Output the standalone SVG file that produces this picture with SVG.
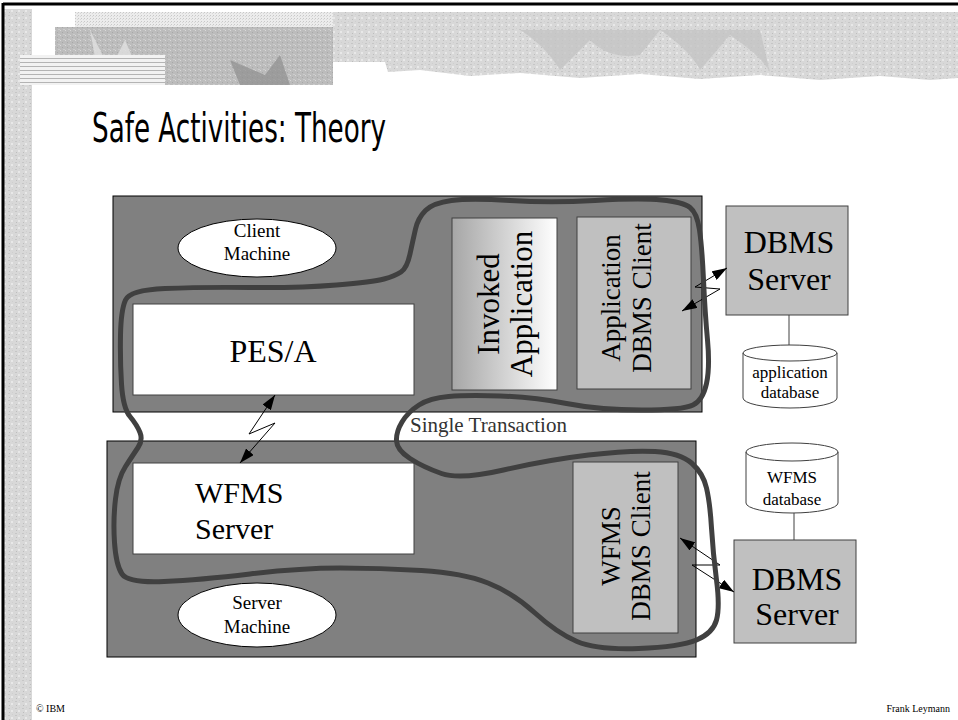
<svg xmlns="http://www.w3.org/2000/svg" width="958" height="720" viewBox="0 0 958 720">
<defs>
<style>
.serif{font-family:"Liberation Serif","Times New Roman",serif;fill:#000}
.mach{fill:#808080;stroke:#000;stroke-width:1}
.white{fill:#fff;stroke:#404040;stroke-width:1}
.lgray{fill:#c0c0c0;stroke:#404040;stroke-width:1}
.ell{fill:#fff;stroke:#000;stroke-width:1}
.conn{fill:none;stroke:#000;stroke-width:1}
.dbline{fill:none;stroke:#404040;stroke-width:1}
.ta{stroke:#404040;stroke-width:5;fill:none;stroke-linejoin:round}
</style>
<marker id="ah" markerUnits="userSpaceOnUse" markerWidth="15" markerHeight="10" refX="15" refY="5" orient="auto-start-reverse">
<path d="M0,0 L15,5 L0,10 Z" fill="#000"/>
</marker>
<linearGradient id="inv" x1="0" y1="0" x2="1" y2="0">
<stop offset="0" stop-color="#a6a6a6"/>
<stop offset="1" stop-color="#ffffff"/>
</linearGradient>
<pattern id="tex" width="7" height="7" patternUnits="userSpaceOnUse">
<rect width="7" height="7" fill="#d8d8d8"/>
<rect x="1" y="1" width="2" height="1" fill="#c6c6c6"/>
<rect x="4" y="3" width="2" height="2" fill="#e8e8e8"/>
<rect x="2" y="5" width="1" height="1" fill="#bdbdbd"/>
<rect x="5" y="0" width="1" height="1" fill="#cfcfcf"/>
</pattern>
<pattern id="tex2" width="5" height="5" patternUnits="userSpaceOnUse">
<rect width="5" height="5" fill="#bcbcbc"/>
<rect x="0" y="0" width="1" height="1" fill="#d8d8d8"/>
<rect x="2" y="2" width="1" height="1" fill="#a8a8a8"/>
<rect x="3" y="4" width="2" height="1" fill="#cccccc"/>
</pattern>
<pattern id="dots" width="3" height="3" patternUnits="userSpaceOnUse">
<rect width="3" height="3" fill="#ececec"/>
<rect x="0" y="0" width="1" height="1" fill="#c8c8c8"/>
<rect x="2" y="1" width="1" height="1" fill="#d8d8d8"/>
</pattern>
<pattern id="stripes" width="4" height="4" patternUnits="userSpaceOnUse">
<rect width="4" height="4" fill="#f2f2f2"/>
<rect y="2" width="4" height="1" fill="#b4b4b4"/>
</pattern>
</defs>

<g id="background">
<rect x="0" y="0" width="958" height="720" fill="#fff"/>
<rect x="4" y="9" width="28" height="711" fill="url(#tex)"/>
<rect x="75" y="12" width="258" height="16" fill="url(#dots)"/>
<rect x="55" y="27" width="278" height="58" fill="url(#tex2)"/>
<path d="M90,30 L110,70 L125,40 L140,75 L165,55 L130,85 L100,85 Z" fill="#e0e0e0" opacity="0.8"/>
<path d="M230,60 L265,75 L280,55 L290,85 L240,85 Z" fill="#8e8e8e" opacity="0.7"/>
<rect x="20" y="55" width="145" height="30" fill="url(#stripes)"/>
<path d="M333,12 L958,12 L958,78 L930,80 L880,76 L820,80 L760,75 L700,79 L640,74 L580,78 L520,73 L470,76 L420,70 L388,72 L385,62 L333,62 Z" fill="url(#tex)"/>
<path d="M520,30 Q545,45 560,70 L590,40 Q610,60 640,55 L660,30 Q690,50 700,70 L730,35 Q760,55 770,72 L760,30 Z" fill="#c4c4c4" opacity="0.8"/>
<line x1="3" y1="4" x2="958" y2="4" stroke="#000" stroke-width="3"/>
<line x1="3" y1="3" x2="3" y2="720" stroke="#000" stroke-width="3"/>
</g>

<text x="92" y="142" textLength="294" lengthAdjust="spacingAndGlyphs" style="font-family:'Comic Sans MS','DejaVu Sans',sans-serif;font-size:40px;fill:#000">Safe Activities: Theory</text>

<g id="client-machine">
<rect class="mach" x="113" y="196" width="589" height="216"/>
<ellipse class="ell" cx="257" cy="248" rx="79" ry="29"/>
<text class="serif" x="257" y="237" text-anchor="middle" font-size="19">Client</text>
<text class="serif" x="257" y="260" text-anchor="middle" font-size="19">Machine</text>
</g>

<g id="server-machine">
<rect class="mach" x="107" y="441" width="589" height="216"/>
<ellipse class="ell" cx="257" cy="615" rx="79" ry="32"/>
<text class="serif" x="257" y="609" text-anchor="middle" font-size="19">Server</text>
<text class="serif" x="257" y="633" text-anchor="middle" font-size="19">Machine</text>
</g>

<g id="pes-a">
<rect class="white" x="133" y="304" width="281" height="91"/>
<text class="serif" x="273" y="362" text-anchor="middle" font-size="32">PES/A</text>
</g>

<g id="wfms-server">
<rect class="white" x="133" y="463" width="281" height="91"/>
<text class="serif" x="195" y="503" font-size="30">WFMS</text>
<text class="serif" x="195" y="539" font-size="30">Server</text>
</g>

<g id="invoked-application">
<rect x="452" y="218" width="105" height="172" fill="url(#inv)" stroke="#404040" stroke-width="1"/>
<text class="serif" transform="translate(499,304) rotate(-90)" text-anchor="middle" font-size="31">Invoked</text>
<text class="serif" transform="translate(532,304) rotate(-90)" text-anchor="middle" font-size="31">Application</text>
</g>

<g id="application-dbms-client">
<rect class="lgray" x="577" y="217" width="114" height="172"/>
<text class="serif" transform="translate(620,298) rotate(-90)" text-anchor="middle" font-size="27">Application</text>
<text class="serif" transform="translate(651,298) rotate(-90)" text-anchor="middle" font-size="27">DBMS Client</text>
</g>

<g id="wfms-dbms-client">
<rect class="lgray" x="573" y="462" width="105" height="171"/>
<text class="serif" transform="translate(620,546) rotate(-90)" text-anchor="middle" font-size="27">WFMS</text>
<text class="serif" transform="translate(650,546) rotate(-90)" text-anchor="middle" font-size="27">DBMS Client</text>
</g>

<g id="dbms-server-app">
<rect class="lgray" x="726" y="206" width="122" height="109"/>
<text class="serif" x="789" y="253" text-anchor="middle" font-size="32">DBMS</text>
<text class="serif" x="789" y="290" text-anchor="middle" font-size="32">Server</text>
</g>

<g id="application-database">
<path d="M743,353 L743,398 A47,10 0 0 0 837,398 L837,353 A47,8 0 0 0 743,353 A47,8 0 0 0 837,353" fill="#fff" stroke="#404040" stroke-width="1"/>
<text class="serif" x="790" y="378" text-anchor="middle" font-size="17">application</text>
<text class="serif" x="790" y="398" text-anchor="middle" font-size="17">database</text>
</g>

<g id="wfms-database">
<path d="M746,452 L746,503 A46,10 0 0 0 838,503 L838,452 A46,9 0 0 0 746,452 A46,9 0 0 0 838,452" fill="#fff" stroke="#404040" stroke-width="1"/>
<text class="serif" x="792" y="483" text-anchor="middle" font-size="17">WFMS</text>
<text class="serif" x="792" y="505" text-anchor="middle" font-size="17">database</text>
</g>

<g id="dbms-server-wfms">
<rect class="lgray" x="734" y="540" width="122" height="103"/>
<text class="serif" x="797" y="590" text-anchor="middle" font-size="32">DBMS</text>
<text class="serif" x="797" y="625" text-anchor="middle" font-size="32">Server</text>
</g>

<g id="connectors">
<line class="dbline" x1="789" y1="315" x2="789" y2="345"/>
<line class="dbline" x1="794" y1="513" x2="794" y2="540"/>
<polyline class="conn" points="275,395 249,434 275,423 240,463" marker-start="url(#ah)" marker-end="url(#ah)"/>
<polyline class="conn" points="682,311 720,289 695,287 727,268" marker-start="url(#ah)" marker-end="url(#ah)"/>
<polyline class="conn" points="680,538 720,565 692,565 734,592" marker-start="url(#ah)" marker-end="url(#ah)"/>
</g>

<g id="single-transaction">
<path class="ta" d="M401,272 Q407,268 410,254 Q413,240 415.5,229 Q418,218 425.5,210.5 Q433,203 451.5,200.5 Q470,198 510,200.5 Q550,203 595,200.5 Q640,198 661.5,200 Q683,202 690,207.5 Q697,213 699.5,230 Q702,247 703.5,280 Q705,313 707.5,340 Q710,367 706.5,383.5 Q703,400 693,405 Q683,410 641.5,410 Q600,410 566.5,403.5 Q533,397 500,396 Q467,395 448.5,396.5 Q430,398 419,405 Q408,412 402,422 Q396,432 396.5,441 Q397,450 410,458.5 Q423,467 441.5,473.5 Q460,480 503.5,470 Q547,460 588.5,455 Q630,450 655,451.5 Q680,453 691.5,463 Q703,473 706.5,488 Q710,503 711.5,528 Q713,553 716.5,580 Q720,607 716.5,620 Q713,633 696.5,640 Q680,647 638.5,648.5 Q597,650 577,641.5 Q557,633 535,613 Q513,593 488,583 Q463,573 421.5,570.5 Q380,568 340,568 Q300,568 250,574 Q200,580 164,581.5 Q128,583 122,574 Q116,565 114.5,542.5 Q113,520 115.5,499 Q118,478 125.5,466.5 Q133,455 138,447.5 Q143,440 140,432.5 Q137,425 130,416.5 Q123,408 121.5,384 Q120,360 120.5,335 Q121,310 125.5,300 Q130,290 165,288.5 Q200,287 250,287.5 Q300,288 336.5,285 Q373,282 384,279 Q395,276 401,272 Z"/>
<text x="410" y="432" style="font-family:'Liberation Serif',serif;font-size:21px;fill:#333">Single Transaction</text>
</g>

<text x="36" y="712" class="serif" font-size="10">© IBM</text>
<text x="950" y="712" class="serif" font-size="10" text-anchor="end">Frank Leymann</text>
</svg>
